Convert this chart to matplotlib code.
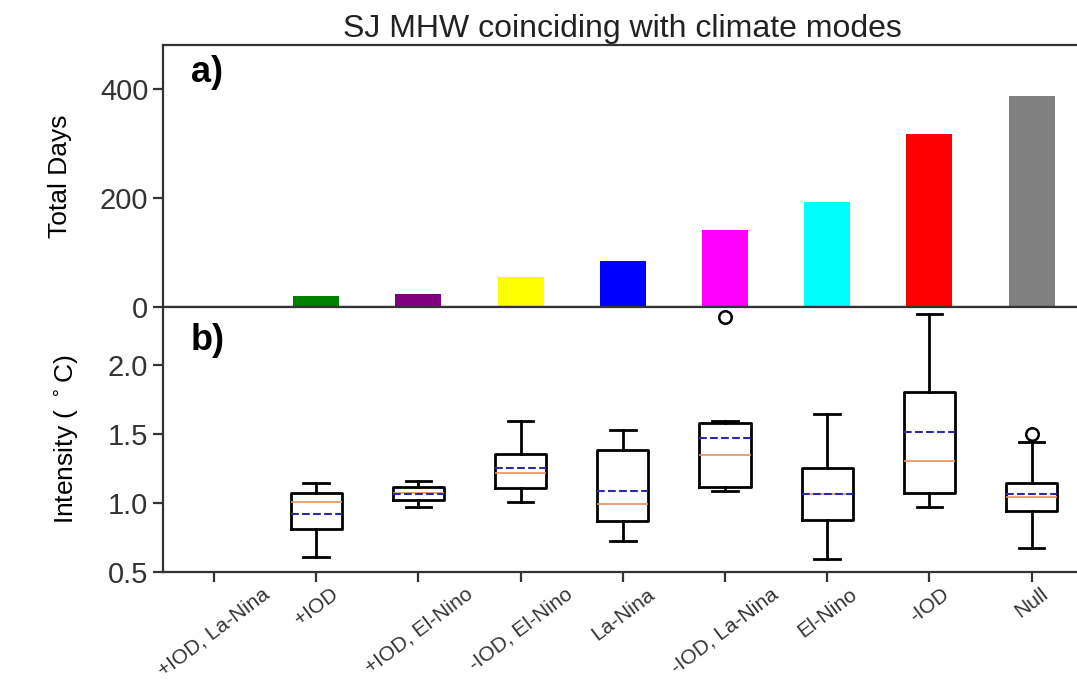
import numpy as np
import matplotlib
matplotlib.use('Agg')
import matplotlib.pyplot as plt

# categories and panel a) totals
categories = ['+IOD, La-Nina', '+IOD', '+IOD, El-Nino', '-IOD, El-Nino', 'La-Nina',
              '-IOD, La-Nina', 'El-Nino', '-IOD', 'Null']
total_days = [0, 20, 24, 55, 84, 141, 193, 317, 387]
bar_colors = ['white', 'green', 'purple', 'yellow', 'blue', 'magenta', 'cyan', 'red', 'grey']

# panel b) box statistics (first category has no events)
box_pos = [1, 2, 3, 4, 5, 6, 7, 8]
whislo = [0.61, 0.97, 1.005, 0.727, 1.087, 0.592, 0.969, 0.672]
q1 = [0.81, 1.02, 1.106, 0.867, 1.114, 0.877, 1.07, 0.942]
med = [1.007, 1.072, 1.215, 0.993, 1.346, 1.065, 1.307, 1.046]
mean = [0.92, 1.065, 1.256, 1.087, 1.471, 1.062, 1.512, 1.063]
q3 = [1.072, 1.114, 1.355, 1.384, 1.582, 1.251, 1.802, 1.143]
whishi = [1.145, 1.157, 1.594, 1.529, 1.596, 1.643, 2.367, 1.44]
fliers = [[], [], [], [], [2.346], [], [], [1.5]]

plt.rcParams['font.family'] = ['Liberation Sans', 'DejaVu Sans']

fig = plt.figure(figsize=(10.77, 6.87), dpi=100)
ax1 = fig.add_axes([0.1513, 0.553, 0.854, 0.3815])
ax2 = fig.add_axes([0.1513, 0.1674, 0.854, 0.3856])

x = np.arange(len(categories))
ax1.bar(x, total_days, width=0.45, color=bar_colors)
ax1.set_xlim(-0.5, 8.5)
ax1.set_ylim(0, 480)
ax1.set_yticks([0, 200, 400])
ax1.set_xticks([])
ax1.set_ylabel('Total Days', fontsize=19, labelpad=20)
ax1.set_title('SJ MHW coinciding with climate modes', fontsize=23, pad=6,
              color='#222222')
ax1.text(0.03, 0.96, 'a)', transform=ax1.transAxes, fontsize=26,
         fontweight='bold', va='top')

stats = []
for i in range(len(box_pos)):
    stats.append({'whislo': whislo[i], 'q1': q1[i], 'med': med[i], 'mean': mean[i],
                  'q3': q3[i], 'whishi': whishi[i], 'fliers': fliers[i]})

ax2.bxp(stats, positions=box_pos, widths=0.5, showmeans=True, meanline=True,
        boxprops=dict(color='black', lw=2),
        whiskerprops=dict(color='black', lw=2),
        capprops=dict(color='black', lw=2),
        medianprops=dict(color='#e8925a', lw=1.2),
        meanprops=dict(color='#2a2aa8', ls='--', lw=1.5),
        flierprops=dict(marker='o', markerfacecolor='none', markeredgecolor='black',
                        markersize=9, markeredgewidth=1.8))
ax2.set_xlim(-0.5, 8.5)
ax2.set_ylim(0.5, 2.42)
ax2.set_yticks([0.5, 1.0, 1.5, 2.0])
ax2.set_xticks(x)
ax2.set_xticklabels(categories, rotation=37)
ax2.set_ylabel(r'Intensity ( $^\circ$C)', fontsize=19, labelpad=20)
ax2.text(0.03, 0.94, 'b)', transform=ax2.transAxes, fontsize=26,
         fontweight='bold', va='top')

for ax in (ax1, ax2):
    for s in ax.spines.values():
        s.set_linewidth(1.6)
        s.set_color('#333333')
    ax.tick_params(axis='both', direction='out', length=7, width=1.6,
                   labelsize=21, colors='#333333', labelcolor='#333333')
ax2.tick_params(axis='x', labelsize=15, pad=2)

fig.savefig('out.png', dpi=100)
